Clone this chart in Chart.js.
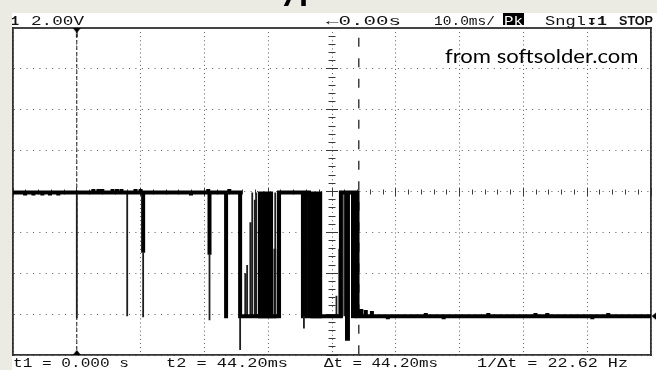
<!DOCTYPE html>
<html><head><meta charset="utf-8">
<script src="https://cdn.jsdelivr.net/npm/chart.js@4/dist/chart.umd.min.js"></script>
<style>
html,body{margin:0;padding:0;}
body{width:657px;height:370px;overflow:hidden;background:#ECEBE3;position:relative;}
#screen{position:absolute;left:12px;top:13px;width:645px;height:357px;background:#fff;}
#c{position:absolute;left:0;top:0;}
.t{position:absolute;white-space:pre;font-family:"Liberation Mono",monospace;color:#111;transform-origin:0 0;line-height:1;}
</style></head><body>
<div id="screen"></div>
<canvas id="c" width="657" height="370"></canvas>
<script>
// ---- data (time in ms, voltage in V; 2 V/div, 10 ms/div) ----
const timeTicks = [-10, 0, 10, 20, 30, 40, 50, 60, 70, 80, 90];
const voltTicks = [-8, -6, -4, -2, 0, 2, 4, 6, 8];
// main (thick) trace vertices [t, V]
const mainTrace = [
 [-10,-0.05],
 [-8.1,-0.05],[-8.1,-0.2],[-8.1,-0.05],
 [-6.8,-0.05],[-6.8,-0.2],[-6.8,-0.05],
 [-5.4,-0.05],[-5.4,-0.2],[-5.4,-0.05],
 [-4.2,-0.05],[-4.2,-0.2],[-4.2,-0.05],
 [-2.9,-0.05],[-2.9,-0.2],[-2.9,-0.05],
 [2.6,-0.05],[2.6,0.12],[2.6,-0.05],
 [3.4,-0.05],[3.4,0.12],[3.4,-0.05],
 [4.0,-0.05],[4.0,0.12],[4.0,-0.05],
 [5.6,-0.05],[5.6,0.12],[5.6,-0.05],
 [6.3,-0.05],[6.3,0.12],[6.3,-0.05],
 [7.0,-0.05],[7.0,0.12],[7.0,-0.05],
 [9.2,-0.05],[9.2,0.12],[9.2,-0.05],
 [10.0,-0.05],[10.0,0.12],[10.0,-0.05],
 [10.4,-0.05],[10.4,-3.0],[10.4,-0.05],
 [17.9,-0.05],[17.9,-0.2],[17.9,-0.05],
 [20.6,-0.05],[20.6,0.12],[20.6,-0.05],
 [20.8,-0.05],[20.8,-3.1],[20.8,-0.05],
 [23.4,-0.05],[23.4,-6.2],[23.4,-0.05],
 [23.9,-0.05],[23.9,0.12],[23.9,-0.05],
 [25.6,-0.05],[25.6,-6.1],
 [31.7,-6.1],[31.7,-0.05],
 [36.4,-0.05],[36.4,-6.1],
 [41.4,-6.1],[41.4,-0.05],
 [42.35,-0.05],[42.35,-7.2],[42.5,-7.2],[42.5,-0.05],
 [44.0,-0.05],[44.0,-6.1],
 [44.6,-6.1],[44.6,-5.75],[44.6,-6.1],
 [45.3,-6.1],[45.3,-5.8],[45.3,-6.1],
 [46.25,-6.1],[46.25,-5.85],[46.25,-6.1],
 [48.75,-6.1],[48.75,-6.25],[48.75,-6.1],
 [54.7,-6.1],[54.7,-5.95],[54.7,-6.1],
 [57.5,-6.1],[57.5,-6.25],[57.5,-6.1],
 [64.5,-6.1],[64.5,-5.95],[64.5,-6.1],
 [71.9,-6.1],[71.9,-5.95],[71.9,-6.1],
 [73.75,-6.1],[73.75,-5.95],[73.75,-6.1],
 [80.8,-6.1],[80.8,-6.25],[80.8,-6.1],
 [83.3,-6.1],[83.3,-5.95],[83.3,-6.1],
 [90,-6.1]
];
// thin glitches: time, from V, to V
const glitchTime = [0.0, 7.9, 10.4, 20.8, 25.6, 26.4, 26.7, 27.2, 27.5, 27.9, 28.1, 31.1, 31.5, 35.6, 40.7, 41.14, 41.92];
const glitchFrom = [-0.05, -0.05, -3.0, -3.1, -6.1, -6.1, -6.1, -6.1, -6.1, -6.1, -6.1, -0.05, -0.05, -6.1, -6.1, -6.1, -0.05];
const glitchTo   = [-6.2, -6.1, -6.15, -6.3, -7.75, -4.0, -3.6, -1.5, -0.05, -0.4, -0.05, -6.1, -6.1, -6.7, -5.1, -2.8, -6.1];
// dense bursts (peak-detect envelopes)
const burstStart = [28.33, 30.8, 35.1, 36.6, 42.97];
const burstEnd   = [30.8, 31.3, 36.1, 38.5, 43.9];
const burstHigh  = [0.0, -2.8, 0.0, 0.0, 0.0];
const burstLow   = [-6.2, -6.2, -6.2, -6.2, -6.2];
// cursors
const cursorTimes = [0, 44.2];
const groundMarkLevel = -6.1;

// ---- build chart datasets ----
const pts = a => a.map(p => ({x: p[0], y: p[1]}));
const glitchPts = [];
glitchTime.forEach((t, i) => { glitchPts.push({x: t, y: glitchFrom[i]}, {x: t, y: glitchTo[i]}, {x: t, y: null}); });
const vMin = voltTicks[0], vMax = voltTicks[voltTicks.length - 1];
const tMin = timeTicks[0], tMax = timeTicks[timeTicks.length - 1];

function markerCanvas(dir) {
  const c = document.createElement('canvas'); c.width = 10; c.height = 22;
  const g = c.getContext('2d'); g.fillStyle = '#000';
  g.beginPath();
  if (dir === 'down') { g.moveTo(1, 11); g.lineTo(9, 11); g.lineTo(5, 16); }
  else { g.moveTo(1, 11); g.lineTo(9, 11); g.lineTo(5, 6); }
  g.closePath(); g.fill();
  if (dir === 'down') g.fillRect(4.5, 15, 1.2, 5);
  return c;
}
function sideMarker() {
  const c = document.createElement('canvas'); c.width = 16; c.height = 10;
  const g = c.getContext('2d'); g.fillStyle = '#000';
  g.beginPath(); g.moveTo(8.5, 5); g.lineTo(13, 1.5); g.lineTo(13, 8.5); g.closePath(); g.fill();
  return c;
}

function centerAxis(axis, step, len, posVal) {
  const o = {
    type: 'linear', position: axis === 'x' ? {y: posVal} : {x: posVal},
    min: axis === 'x' ? tMin : vMin, max: axis === 'x' ? tMax : vMax,
    ticks: {display: false, stepSize: step},
    grid: {drawOnChartArea: false, drawTicks: true, tickLength: len, tickColor: '#3a3a3a', tickWidth: 1},
    border: {display: false}
  };
  if (axis === 'x') o.afterFit = s => { s.height = 0; }; else o.afterFit = s => { s.width = 0; };
  return o;
}
const tCenter = (tMin + tMax) / 2, vCenter = (vMin + vMax) / 2;

const datasets = [
  {label: 'trace', data: pts(mainTrace), showLine: true, borderColor: '#000', borderWidth: 4, pointRadius: 0, order: 1},
  {label: 'glitches', data: glitchPts, showLine: true, spanGaps: false, borderColor: '#1e1e1e', borderWidth: 1.8, pointRadius: 0, order: 2},
  {label: 't1', data: [{x: cursorTimes[0], y: vMax}, {x: cursorTimes[0], y: vMin}], showLine: true, borderColor: '#222', borderWidth: 1, borderDash: [4, 2], pointRadius: 0, order: 4},
  {label: 't2', data: [{x: cursorTimes[1], y: vMax}, {x: cursorTimes[1], y: vMin}], showLine: true, borderColor: '#222', borderWidth: 1.3, borderDash: [9, 11.5], borderDashOffset: 10.8, pointRadius: 0, order: 4},
  {label: 'trigMark', data: [{x: cursorTimes[0], y: vMax}], showLine: false, pointStyle: markerCanvas('down'), pointRadius: 5, clip: false, order: 0},
  {label: 't1Mark', data: [{x: cursorTimes[0], y: vMin}], showLine: false, pointStyle: markerCanvas('up'), pointRadius: 5, clip: false, order: 0},
  {label: 'levelMark', data: [{x: tMax, y: groundMarkLevel}], showLine: false, pointStyle: sideMarker(), pointRadius: 5, clip: false, order: 0}
];
burstStart.forEach((s, i) => {
  datasets.push({label: 'burst' + i, data: [{x: s, y: burstHigh[i]}, {x: burstEnd[i], y: burstHigh[i]}],
    showLine: true, borderWidth: 0, borderColor: 'rgba(0,0,0,0)', backgroundColor: '#000',
    fill: {value: burstLow[i]}, pointRadius: 0, order: 3});
});
datasets.forEach(d => { d.xAxisID = 'x'; d.yAxisID = 'y'; });

new Chart(document.getElementById('c'), {
  type: 'scatter',
  data: {datasets},
  options: {
    responsive: false, animation: false, devicePixelRatio: 1,
    layout: {padding: {left: 13, top: 28, right: 4, bottom: 15}},
    plugins: {legend: {display: false}, tooltip: {enabled: false}},
    scales: {
      x: {type: 'linear', position: 'bottom', min: tMin, max: tMax,
          afterBuildTicks: s => { s.ticks = timeTicks.map(v => ({value: v})); },
          ticks: {display: false},
          grid: {color: '#5a5a5a', lineWidth: 1, drawTicks: false},
          border: {display: true, color: '#333', width: 1.8, dash: [1, 3.09]}},
      x2: {type: 'linear', position: 'top', min: tMin, max: tMax, ticks: {display: false},
          grid: {display: false, drawTicks: false}, border: {display: true, color: '#444', width: 2}},
      y: {type: 'linear', position: 'left', min: vMin, max: vMax,
          afterBuildTicks: s => { s.ticks = voltTicks.map(v => ({value: v})); },
          ticks: {display: false},
          grid: {color: '#5a5a5a', lineWidth: 1, drawTicks: false},
          border: {display: true, color: '#333', width: 1.8, dash: [1, 5.4]}},
      y2: {type: 'linear', position: 'right', min: vMin, max: vMax, ticks: {display: false},
          grid: {display: false, drawTicks: false}, border: {display: true, color: '#333', width: 1.8}},
      xcA: centerAxis('x', 2, 2.5, vCenter),
      xcB: centerAxis('x', 2, -2.5, vCenter),
      xcC: centerAxis('x', 10, 4, vCenter),
      xcD: centerAxis('x', 10, -4, vCenter),
      ycA: centerAxis('y', 0.4, 3.5, tCenter),
      ycB: centerAxis('y', 0.4, -3.5, tCenter),
      ycC: centerAxis('y', 2, 6, tCenter),
      ycD: centerAxis('y', 2, -6, tCenter)
    }
  }
});

// ---- text overlays ----
function place(txt, opt) {
  const el = document.createElement('div');
  el.className = 't';
  el.style.fontSize = opt.size + 'px';
  if (opt.bold) el.style.fontWeight = 'bold';
  if (opt.family) el.style.fontFamily = opt.family;
  if (opt.color) el.style.color = opt.color;
  el.textContent = txt;
  const probe = document.createElement('span');
  probe.style.cssText = 'display:inline-block;width:0;height:0;vertical-align:baseline';
  el.appendChild(probe);
  el.style.left = opt.left + 'px'; el.style.top = '0px';
  (opt.parent || document.body).appendChild(el);
  const r = el.getBoundingClientRect();
  const base = probe.getBoundingClientRect().bottom;
  el.style.top = (opt.base - (base - r.top)) + 'px';
  if (opt.width) el.style.transform = 'scaleX(' + (opt.width / r.width) + ')';
  return el;
}
// cut-off slide title above the screenshot (only descenders visible)
const strip = document.createElement('div');
strip.style.cssText = 'position:absolute;left:0;top:0;width:657px;height:13px;overflow:hidden;';
document.body.appendChild(strip);
const mc = document.createElement('canvas').getContext('2d');
mc.font = 'bold 37px Lato';
const tyW = mc.measureText('Ty').width;
place('Typical', {left: 299 - tyW, base: -0.5, size: 37, bold: true, family: 'Lato, sans-serif', color: '#000', parent: strip});

const HB = 24.5, FB = 366.5;
place('1', {left: 11, base: HB, size: 13.5, bold: true});
place('2.00V', {left: 31, width: 53, base: HB, size: 13});
place('\u21900.00s', {left: 326, width: 75, base: HB, size: 13});
place('10.0ms/', {left: 434, width: 61, base: HB, size: 13});
const pk = document.createElement('div');
pk.style.cssText = 'position:absolute;left:503px;top:13px;width:21px;height:12px;background:#000;';
document.body.appendChild(pk);
place('Pk', {left: 504, width: 19, base: HB, size: 13, color: '#fff'});
place('Sngl', {left: 545, width: 41, base: HB, size: 13});
place('\u21A71', {left: 587, width: 20, base: HB, size: 13, bold: true});
place('STOP', {left: 619, width: 34, base: HB, size: 13, bold: true, family: '"Liberation Sans", sans-serif'});
place('t1 = 0.000 s', {left: 13, width: 116, base: FB, size: 13.5});
place('t2 = 44.20ms', {left: 165.5, width: 122, base: FB, size: 13.5});
place('\u0394t = 44.20ms', {left: 324, width: 114, base: FB, size: 13.5});
place('1/\u0394t = 22.62 Hz', {left: 476.5, width: 151, base: FB, size: 13.5});
place('from softsolder.com', {left: 444.5, width: 193.5, base: 63.3, size: 20, family: 'Lato, sans-serif', color: '#000'});
</script>
</body></html>
